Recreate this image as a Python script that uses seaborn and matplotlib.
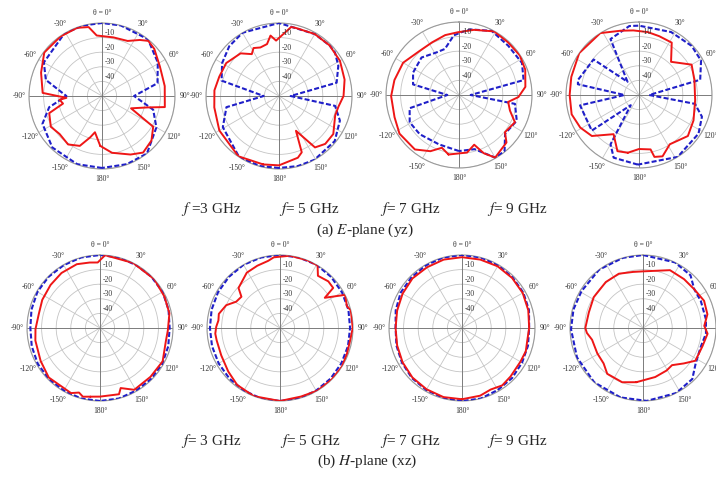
import numpy as np
import pandas as pd
import matplotlib.pyplot as plt
from matplotlib.transforms import offset_copy
import seaborn as sns

# -----------------------------------------------------------------------------
# Style
# -----------------------------------------------------------------------------
sns.set_theme(style="white")
plt.rcParams["font.family"] = ["Liberation Serif", "DejaVu Serif"]
plt.rcParams["mathtext.fontset"] = "stix"

RED = "#ee1616"
BLUE = "#1f1fc8"

# -----------------------------------------------------------------------------
# Data (angle in degrees, gain in dB)
# -----------------------------------------------------------------------------

# E-plane, 3 GHz
e3_red_ang = [-178, -169, -164, -156, -145, -132, -121, -108, -101, -95, -93, -87, -69, -53,
              -35, -20, -11, -5, 11, 25, 34, 40, 48, 63, 81, 100, 104, 113, 121, 132, 144,
              154, 170]
e3_red_db = [-15.8, -24.7, -20.5, -12.6, -9.5, -11, -9.1, -12, -22.8, -20.8, -25.6, -9.3, -5.3,
             -0.5, -0.3, -0.3, -1.9, -8.4, -9.1, -8.4, -3.7, -0.7, -1.8, -5.5, -6.5, -6.3,
             -17.7, -28.4, -9.1, -4.4, -2.1, -5.4, -10.5]
e3_blue_ang = [-180, -160, -136, -115, -102, -90, -74, -60, -31, -15, 0, 15, 39, 59, 77, 90,
               105, 120, 142, 160]
e3_blue_db = [-0.7, -0.3, -1, -5, -13, -25.6, -10, -4, 0, 0, 0, 0, 0, -5.4, -11, -28, -13.7,
              -7, 0, -0.3]

# E-plane, 5 GHz
e5_red_ang = [-167, -146, -120, -100, -85, -72, -58, -42, -33, -28, -21, -13, -8, -3, 10, 14,
              30, 45, 60, 76, 90, 100, 109, 125, 136, 145, 154, 158, 163, 180]
e5_red_db = [-1.9, -0.2, -2.8, -5, -5.6, -7, -7.4, -10.7, -15.8, -12.8, -14.4, -13.5, -8.2,
             -12, -2, -2, -1, -1, -1.8, -3.7, -5.8, -8.6, -9.3, -4.6, -4.4, -7, -23.5, -8.4,
             -5.8, -2.5]
e5_blue_ang = [-180, -165, -147, -119, -102, -90, -75, -60, -45, -30, 0, 30, 45, 52, 63, 77,
               90, 100, 112, 129, 151, 165]
e5_blue_db = [-0.7, -0.3, 0, -6, -13.2, -39.5, -9.3, -5, -1.8, 0, 0, -1, -1, -1.4, -4.4, -9.5,
              -42, -11, -5, -0.9, 0, -0.3]

# E-plane, 7 GHz
e7_red_ang = [-170, -162, -153, -141, -123, -109, -91, -77, -60, -42, -27, -13, -1, 13, 29,
              43, 57, 69, 83, 92, 98, 107, 116, 129, 135, 150, 157, 163, 172]
e7_red_db = [-8.6, -12, -6.8, -2, -1.4, -3.3, -3.5, -4.6, -5.8, -9.5, -9.5, -7.9, -7, -4.2,
             -0.2, -0.7, -0.3, -1.4, -4.2, -9.3, -16, -13.5, -7.4, -9.5, -4, -0.5, -6.7,
             -14.4, -10.2]
e7_blue_ang = [-180, -158, -135, -119, -105, -90, -77, -64, -45, -28, -17, -5, 2, 10, 27, 45,
               63, 77, 90, 99, 114, 130, 141, 150, 164]
e7_blue_db = [-11.6, -13.5, -12, -11.4, -15, -42, -17.7, -15, -13.7, -17, -17, -9, -7, -4.4,
              -0.7, -2.3, -1.6, -4.6, -42, -11.2, -6.7, -8.8, -0.4, -0.5, -11.4]

# E-plane, 9 GHz
e9_red_ang = [-169, -159, -147, -131, -119, -106, -90, -75, -55, -32, -16, -5, 8, 19, 32, 44,
              60, 75, 95, 115, 130, 148, 159, 166, 168, 180]
e9_red_db = [-9.7, -8.8, -18, -7.2, -4, -2, -2.5, -2, 0, 0, -4.2, -5.6, -6.5, -7.4, -7.7,
             -18.4, -8.4, -10.7, -11.4, -8.8, -6.3, -10.2, -5, -6.3, -11.9, -13]
e9_blue_ang = [-179, -158, -150, -141, -127, -100, -90, -80, -76, -52, -41, -27, -8, 0, 27, 47,
               61, 76, 90, 99, 109, 123, 148]
e9_blue_db = [-2.3, -3.7, -11, -41, -9.5, -9, -40, -7.5, -7, -10.5, -38, -7, -2.3, -2.5, -1.6,
              -0.7, -1.4, -6.8, -43, -11.2, -4.4, -1.4, 0]

# H-plane, 3 GHz
h3_red_ang = [-172, -166, -162, -156, -134, -119, -101, -91, -77, -64, -49, -35, -20, -9, -2,
              4, 27, 48, 64, 78, 92, 101, 118, 134, 151, 161, 164, 180]
h3_red_db = [-2.5, -1.5, -3.5, -1.2, -1.2, -3.5, -4.9, -5.8, -7, -6, -5.1, -4, -3.5, -4.6,
             -5.1, 0, 0, 0, -0.9, -1.4, -3.5, -4, -1.4, -1.9, -1.6, -6.5, -2.8, -3]
h3_blue_ang = [-180, -165, -150, -135, -120, -105, -90, -75, -60, -45, -30, -15, 0, 15, 30, 45,
               60, 75, 90, 105, 120, 135, 150, 165]
h3_blue_db = [0, 0, -0.5, -0.6, -0.8, -1.6, -2.3, -1.4, -0.5, -0.3, -0.3, 0, 0, 0, -0.3, -0.3,
              -0.5, -1.4, -2.3, -1.6, -0.8, -0.6, -0.5, 0]

# H-plane, 5 GHz
h5_red_ang = [-180, -159, -143, -130, -115, -101, -95, -89, -83, -77, -67, -59, -51, -46, -31,
              -20, -10, -5, 8, 22, 31, 36, 46, 53, 56, 63, 72, 76, 90, 100, 111, 122, 135,
              149, 163]
h5_red_db = [0, 0, -1.2, -3.7, -5.6, -5.8, -5.5, -6.3, -7.5, -7, -10, -15, -16, -10.5, -5.8,
             -4.6, -3.3, -1.4, 0, 0, 0, -5.8, -4, -4.4, -13, 0, -1.8, 0, -0.2, -1.2, -0.9, 0,
             0, 0, -0.9]
h5_blue_ang = [-180, -165, -150, -135, -120, -105, -90, -75, -60, -45, -30, -15, 0, 15, 30, 45,
               60, 75, 90, 105, 120, 135, 150, 165]
h5_blue_db = [0, 0, -0.5, -1, -1.5, -1.8, -2, -1.5, -1, -0.5, 0, 0, 0, 0, 0, -0.5, -1, -1.5, -2,
              -1.8, -1.5, -1, -0.5, 0]

# H-plane, 7 GHz
h7_red_ang = [-180, -165, -150, -135, -120, -105, -90, -75, -60, -45, -30, -15, 0, 15, 30, 45,
              60, 75, 90, 100, 110, 120, 135, 145, 155, 165]
h7_red_db = [-1.2, -1, -1.5, -2, -3, -4, -4.5, -4, -3, -2, -2, -1.5, -1.5, -1.5, -1.2, -1.5,
             -2, -3, -4, -4.5, -3.5, -3.8, -3, -2, -3.5, -2]
h7_blue_ang = [-180, -165, -150, -135, -120, -105, -90, -75, -60, -45, -30, -15, 0, 15, 30, 45,
               60, 75, 90, 105, 120, 135, 150, 165]
h7_blue_db = [0, -0.5, -1, -1.5, -2.5, -3.5, -4.5, -3, -1.5, -1, -0.5, 0, 0, 0, -0.5, -1, -1.5,
              -2.5, -4, -3.2, -2.5, -1.5, -1, 0]

# H-plane, 9 GHz
h9_red_ang = [-173, -159, -142, -132, -119, -103, -95, -90, -74, -58, -39, -24, -10, 0, 25, 40,
              53, 66, 78, 88, 95, 107, 122, 131, 142, 151, 166]
h9_red_db = [-12.6, -10.2, -10.2, -13.7, -14.2, -14.2, -11.4, -10.5, -11.4, -10.2, -9.5, -9.3,
             -11, -11.2, -6.3, -6.3, -6, -4.2, -4.9, -8, -5.6, -7.4, -7.7, -13, -17.7, -16.7,
             -15.4]
h9_blue_ang = [-162, -138, -114, -91, -75, -59, -37, -16, 0, 26, 42, 53, 65, 82, 95, 108, 124,
               136, 153, 177]
h9_blue_db = [0, 0, -0.5, -0.7, -0.7, -0.9, 0, 0, 0, 0, -1.4, -6, -6.3, -6.5, -6.7, -8.4, -6.5,
              -1.4, 0, 0]

ring_db = [-40, -30, -20, -10, 0]
ring_labels = ["-40", "-30", "-20", "-10"]
theta_ticks = list(range(0, 360, 30))
theta_labels = ["θ = 0°", "30°", "60°", "90°", "120°", "150°", "180°",
                "-150°", "-120°", "-90°", "-60°", "-30°"]

freq_top = ["$f$ =3 GHz", "$f$= 5 GHz", "$f$= 7 GHz", "$f$= 9 GHz"]
freq_bottom = ["$f$= 3 GHz", "$f$= 5 GHz", "$f$= 7 GHz", "$f$= 9 GHz"]

panels = [
    (e3_red_ang, e3_red_db, e3_blue_ang, e3_blue_db),
    (e5_red_ang, e5_red_db, e5_blue_ang, e5_blue_db),
    (e7_red_ang, e7_red_db, e7_blue_ang, e7_blue_db),
    (e9_red_ang, e9_red_db, e9_blue_ang, e9_blue_db),
    (h3_red_ang, h3_red_db, h3_blue_ang, h3_blue_db),
    (h5_red_ang, h5_red_db, h5_blue_ang, h5_blue_db),
    (h7_red_ang, h7_red_db, h7_blue_ang, h7_blue_db),
    (h9_red_ang, h9_red_db, h9_blue_ang, h9_blue_db),
]

# panel centres in pixels (x, y from top)
centres = [(102, 96), (279, 96), (459, 95), (639, 95),
           (100, 328), (280, 328), (462, 328), (643, 328)]

# -----------------------------------------------------------------------------
# Figure
# -----------------------------------------------------------------------------
W, H = 716, 478
R = 73
fig = plt.figure(figsize=(W / 100, H / 100), dpi=100)


def closed(ang, db):
    return pd.DataFrame({"theta": np.deg2rad(ang + [ang[0] + 360]), "gain": db + [db[0]]})


for (ra, rd, ba, bd), (cx, cy) in zip(panels, centres):
    ax = fig.add_axes([(cx - R) / W, 1 - (cy + R) / H, 2 * R / W, 2 * R / H],
                      projection="polar")
    ax.set_theta_zero_location("N")
    ax.set_theta_direction(-1)

    sns.lineplot(data=closed(ba, bd), x="theta", y="gain", sort=False, estimator=None,
                 color=BLUE, lw=1.5, linestyle=(0, (2.4, 1.1)), ax=ax, zorder=3)
    sns.lineplot(data=closed(ra, rd), x="theta", y="gain", sort=False, estimator=None,
                 color=RED, lw=1.4, ax=ax, zorder=4)

    ax.set_ylim(-50, 0)
    ax.set_yticks(ring_db)
    ax.set_yticklabels([])
    ax.set_thetagrids(theta_ticks, theta_labels, fontsize=5.5, color="#333333")
    ax.tick_params(axis="x", length=0, pad=0)
    ax.grid(color="#c4c4c4", lw=0.6)
    for a in (0, 90, 180, 270):
        ax.axvline(np.deg2rad(a), color="#707070", lw=0.6, zorder=1)
    ax.spines["polar"].set_color("#9a9a9a")
    ax.spines["polar"].set_linewidth(0.8)
    ax.set(xlabel="", ylabel="")

    trans = offset_copy(ax.transData, fig=fig, x=8, y=4.5, units="dots")
    for val, lab in zip(ring_db, ring_labels):
        ax.text(0, val, lab, transform=trans, fontsize=5.5, color="#333333",
                ha="center", va="center", zorder=5)

# captions
for txt, x in zip(freq_top, [211, 309, 410, 517]):
    fig.text(x / W, 1 - 209 / H, txt, fontsize=11, ha="center", va="center")
fig.text(365 / W, 1 - 230 / H, "(a) $E$-plane (yz)", fontsize=11, ha="center", va="center")
for txt, x in zip(freq_bottom, [211, 310, 410, 517]):
    fig.text(x / W, 1 - 441 / H, txt, fontsize=11, ha="center", va="center")
fig.text(367 / W, 1 - 461 / H, "(b) $H$-plane (xz)", fontsize=11, ha="center", va="center")

fig.savefig("out.png", dpi=100)
